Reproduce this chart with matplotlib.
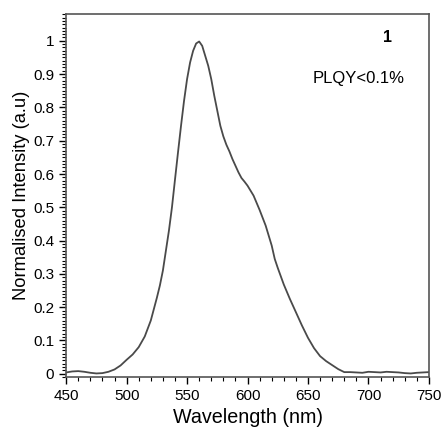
import matplotlib.pyplot as plt
from matplotlib.ticker import MultipleLocator

plt.rcParams['font.family'] = ['Liberation Sans', 'DejaVu Sans']

# emission spectrum (finer sampling around the band)
wavelength = [
    450, 455, 460, 465, 470, 475, 480, 485, 490, 495,
    500, 505, 510, 515, 520, 525, 527.5, 530, 532.5, 535,
    537.5, 540, 542.5, 545, 547.5, 550, 552.5, 555, 557.5, 560,
    562.5, 565, 567.5, 570, 572.5, 575, 577.5, 580, 582.5, 585,
    587.5, 590, 592.5, 595, 597.5, 600, 605, 610, 615, 620,
    622.5, 625, 630, 635, 640, 645, 650, 655, 660, 665,
    670, 675, 680, 685, 690, 695, 700, 705, 710, 715,
    720, 725, 730, 735, 740, 745, 750,
]
intensity = [
    0.004, 0.007, 0.008, 0.006, 0.003, 0.001, 0.002, 0.006, 0.013, 0.025,
    0.042, 0.058, 0.080, 0.112, 0.160, 0.228, 0.265, 0.310, 0.370, 0.430,
    0.500, 0.583, 0.665, 0.745, 0.820, 0.885, 0.935, 0.970, 0.992, 0.998,
    0.985, 0.955, 0.925, 0.885, 0.835, 0.790, 0.745, 0.713, 0.688, 0.668,
    0.645, 0.625, 0.605, 0.588, 0.577, 0.565, 0.535, 0.492, 0.445, 0.385,
    0.345, 0.318, 0.268, 0.225, 0.185, 0.145, 0.108, 0.077, 0.053, 0.038,
    0.026, 0.014, 0.005, 0.005, 0.004, 0.003, 0.006, 0.005, 0.004, 0.006,
    0.005, 0.004, 0.002, 0.001, 0.003, 0.004, 0.005,
]
yticks = [0, 0.1, 0.2, 0.3, 0.4, 0.5, 0.6, 0.7, 0.8, 0.9, 1]
ytick_labels = ["0", "0.1", "0.2", "0.3", "0.4", "0.5", "0.6", "0.7", "0.8", "0.9", "1"]

fig = plt.figure(figsize=(4.44, 4.30), dpi=100)
ax = fig.add_axes([0.149, 0.123, 0.817, 0.844])

ax.plot(wavelength, intensity, color="#4a4a4a", lw=1.3)

ax.set_xlim(450, 750)
ax.set_ylim(-0.01, 1.08)
ax.set_xticks([450, 500, 550, 600, 650, 700, 750])
ax.xaxis.set_minor_locator(MultipleLocator(10))
ax.set_yticks(yticks)
ax.set_yticklabels(ytick_labels)
ax.yaxis.set_minor_locator(MultipleLocator(0.01))
ax.tick_params(which="major", direction="out", length=5, width=1, labelsize=11,
               top=False, right=False)
ax.tick_params(which="minor", direction="out", length=3, width=0.8,
               top=False, right=False)
for s in ax.spines.values():
    s.set_color("#555555")
    s.set_linewidth(1.2)

ax.set_xlabel("Wavelength (nm)", fontsize=14.2, labelpad=4)
ax.set_ylabel("Normalised Intensity (a.u)", fontsize=13.2, labelpad=2)

ax.text(0.887, 0.935, "1", transform=ax.transAxes, fontsize=11.5,
        fontweight="bold", ha="center", va="center")
ax.text(0.806, 0.823, "PLQY<0.1%", transform=ax.transAxes, fontsize=12,
        ha="center", va="center")

fig.savefig("out.png", dpi=100)
